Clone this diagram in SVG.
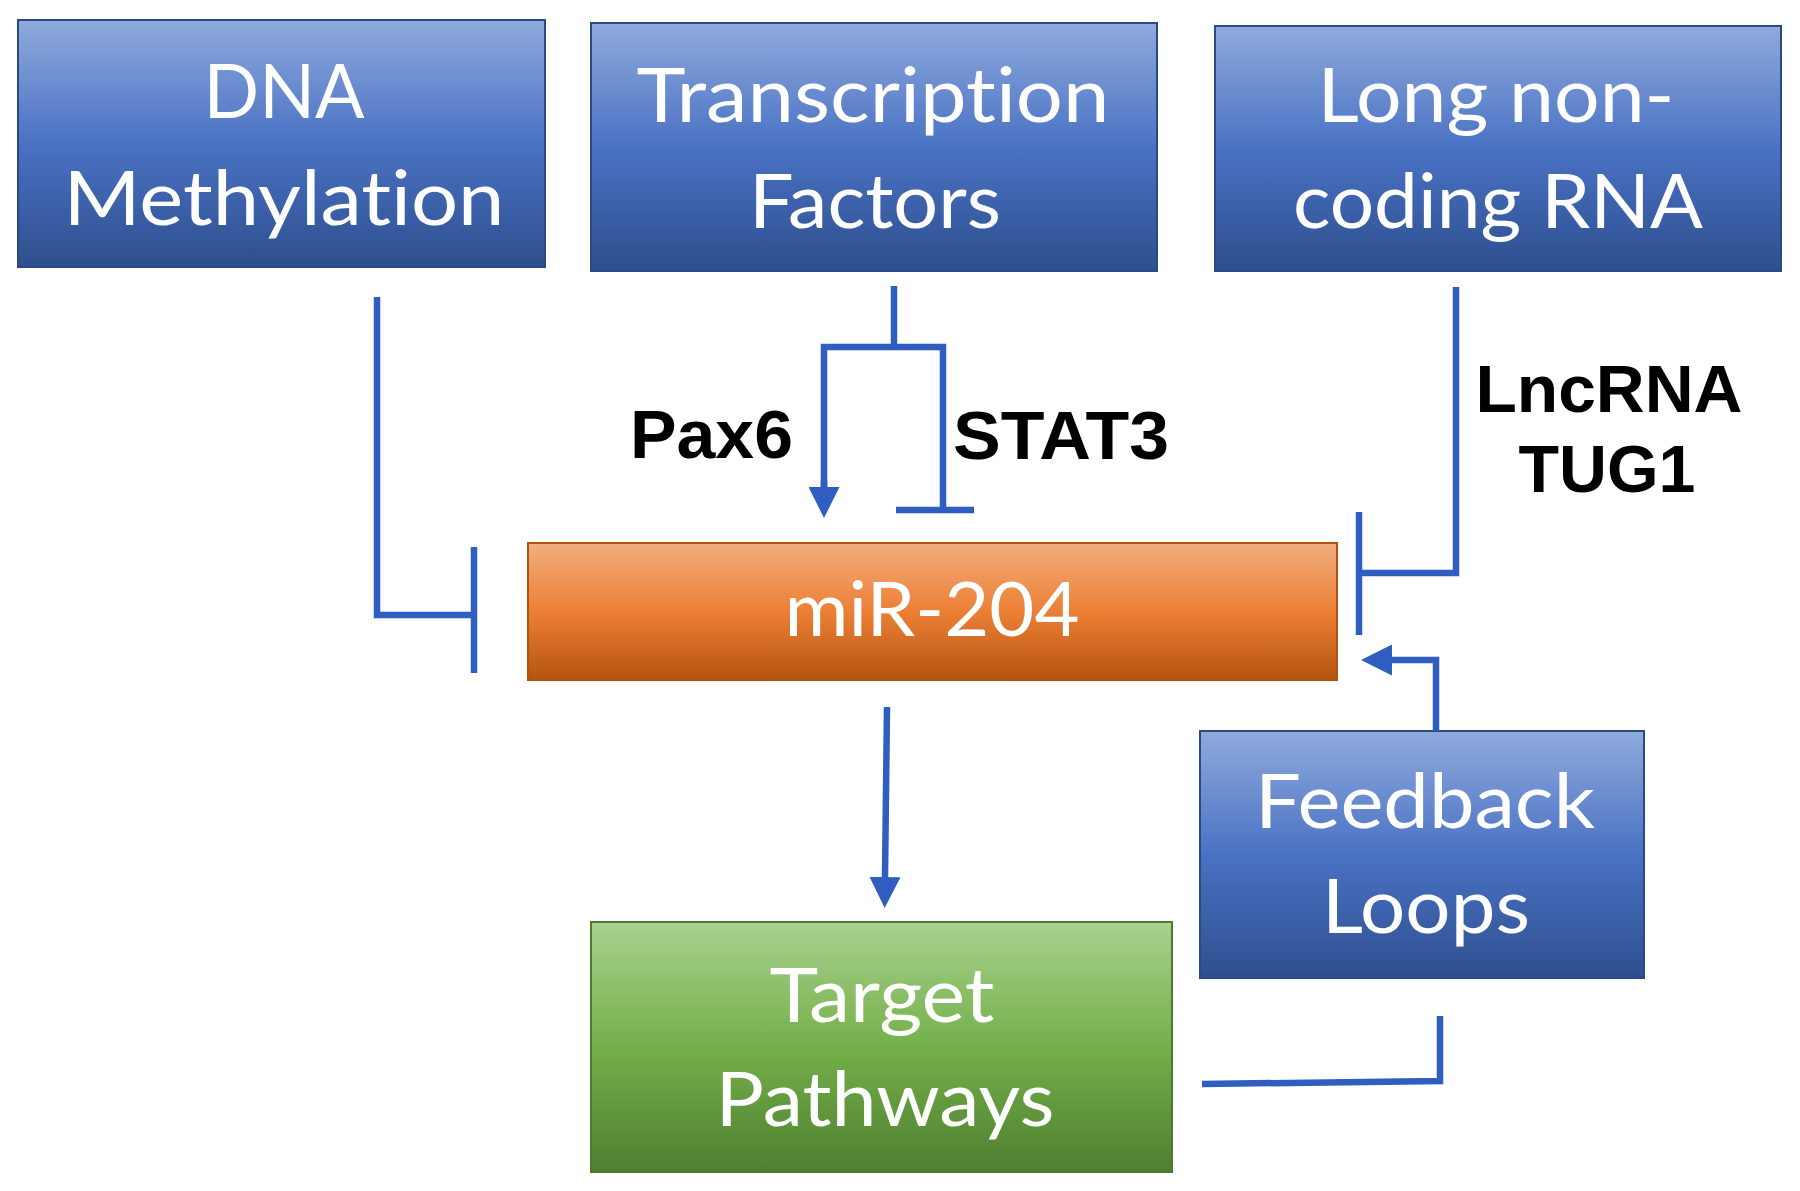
<svg xmlns="http://www.w3.org/2000/svg" width="1800" height="1191" viewBox="0 0 1800 1191">
<style>
.box{stroke-width:2}
.blue{fill:url(#gBlue);stroke:#2A4A86}
.orange{fill:url(#gOrange);stroke:#B0530F}
.green{fill:url(#gGreen);stroke:#4D7A30}
.bt{font-family:Lato,"Open Sans","Liberation Sans",sans-serif;font-size:76px;fill:#FFFFFF;text-anchor:middle;font-variant-ligatures:none;font-feature-settings:"liga" 0,"clig" 0}
.lbl{font-family:"Liberation Sans",Arial,sans-serif;font-weight:bold;fill:#000000}
.c{fill:none;stroke:#2F5EC0;stroke-width:6.5;stroke-linejoin:miter;stroke-linecap:butt}
</style>
<defs>
<linearGradient id="gBlue" x1="0" y1="0" x2="0" y2="1">
<stop offset="0" stop-color="#8FAADC"/><stop offset="0.5" stop-color="#4A72C4"/><stop offset="1" stop-color="#2E4F8E"/>
</linearGradient>
<linearGradient id="gOrange" x1="0" y1="0" x2="0" y2="1">
<stop offset="0" stop-color="#F2AE7E"/><stop offset="0.5" stop-color="#EC7F36"/><stop offset="1" stop-color="#B5540F"/>
</linearGradient>
<linearGradient id="gGreen" x1="0" y1="0" x2="0" y2="1">
<stop offset="0" stop-color="#A9D18E"/><stop offset="0.5" stop-color="#74B04A"/><stop offset="1" stop-color="#4F7E31"/>
</linearGradient>
<marker id="arr" viewBox="0 0 10 10" refX="0" refY="5" markerWidth="31" markerHeight="31" markerUnits="userSpaceOnUse" orient="auto">
<path d="M0,0 L10,5 L0,10 z" fill="#2F5EC0"/>
</marker>
</defs>
<rect width="1800" height="1191" fill="#FFFFFF"/>

<g id="dna-methylation">
<rect class="box blue" x="18" y="20" width="527" height="247"/>
<text class="bt" x="284" y="118" textLength="161" lengthAdjust="spacingAndGlyphs">DNA</text>
<text class="bt" x="284" y="225" textLength="441" lengthAdjust="spacingAndGlyphs">Methylation</text>
</g>

<g id="transcription-factors">
<rect class="box blue" x="591" y="23" width="566" height="248"/>
<text class="bt" x="873" y="122" textLength="473" lengthAdjust="spacingAndGlyphs">Transcription</text>
<text class="bt" x="875" y="228" textLength="252" lengthAdjust="spacingAndGlyphs">Factors</text>
</g>

<g id="long-noncoding-rna">
<rect class="box blue" x="1215" y="26" width="566" height="245"/>
<text class="bt" x="1496" y="122" textLength="357" lengthAdjust="spacingAndGlyphs">Long non-</text>
<text class="bt" x="1498" y="228" textLength="410" lengthAdjust="spacingAndGlyphs">coding RNA</text>
</g>

<g id="mir-204">
<rect class="box orange" x="528" y="543" width="809" height="137"/>
<text class="bt" x="932" y="636" textLength="295" lengthAdjust="spacingAndGlyphs">miR-204</text>
</g>

<g id="target-pathways">
<rect class="box green" x="591" y="922" width="581" height="250"/>
<text class="bt" x="882" y="1022" textLength="225" lengthAdjust="spacingAndGlyphs">Target</text>
<text class="bt" x="885" y="1126" textLength="339" lengthAdjust="spacingAndGlyphs">Pathways</text>
</g>

<g id="feedback-loops">
<rect class="box blue" x="1200" y="731" width="444" height="247"/>
<text class="bt" x="1425" y="828" textLength="340" lengthAdjust="spacingAndGlyphs">Feedback</text>
<text class="bt" x="1426" y="933" textLength="208" lengthAdjust="spacingAndGlyphs">Loops</text>
</g>

<g id="labels">
<text class="lbl" x="630" y="458" font-size="69" textLength="163" lengthAdjust="spacingAndGlyphs">Pax6</text>
<text class="lbl" x="953" y="459" font-size="69" textLength="216" lengthAdjust="spacingAndGlyphs">STAT3</text>
<text class="lbl" x="1609" y="412" font-size="67" text-anchor="middle" textLength="267" lengthAdjust="spacingAndGlyphs">LncRNA</text>
<text class="lbl" x="1607" y="492" font-size="67" text-anchor="middle" textLength="177" lengthAdjust="spacingAndGlyphs">TUG1</text>
</g>

<g id="connectors">
<path class="c" d="M377,297 V615 H474"/>
<path class="c" d="M474,547 V673"/>
<path class="c" d="M894,286 V347"/>
<path class="c" d="M824,487 V347 H943 V510"/>
<path class="c" d="M824,480 V487" marker-end="url(#arr)"/>
<path class="c" d="M896,510 H974"/>
<path class="c" d="M1456,287 V573 H1359"/>
<path class="c" d="M1359,512 V635"/>
<path class="c" d="M1436,731 V660 H1392" marker-end="url(#arr)"/>
<path class="c" d="M887,707 L885,877" marker-end="url(#arr)"/>
<path class="c" d="M1202,1084 L1440,1081 V1016"/>
</g>
</svg>
